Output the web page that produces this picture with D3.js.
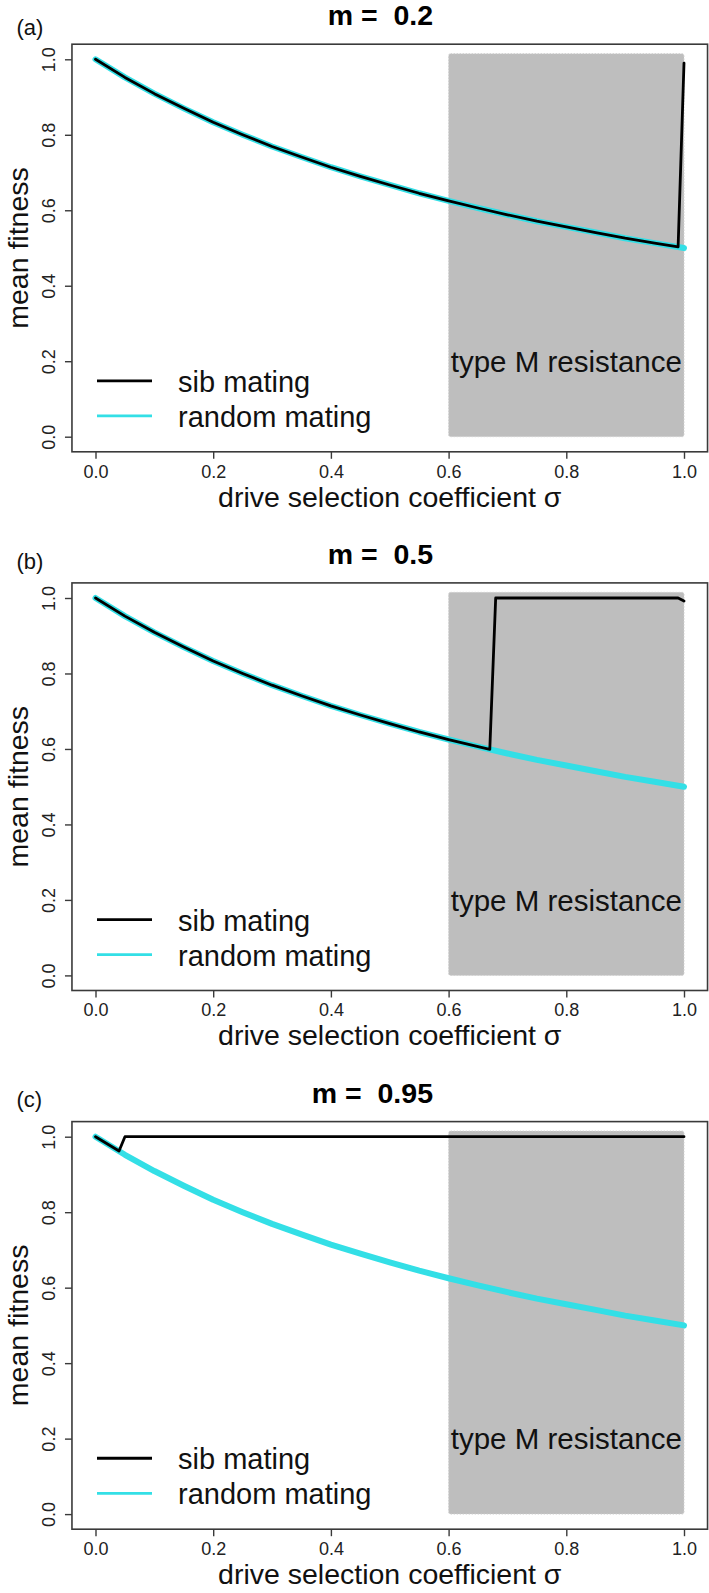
<!DOCTYPE html>
<html>
<head>
<meta charset="utf-8">
<script src="https://cdn.jsdelivr.net/npm/d3@7/dist/d3.min.js"></script>
<style>
  html, body { margin: 0; padding: 0; background: #fff; }
  svg { display: block; font-family: "Liberation Sans", Arial, Helvetica, sans-serif; }
</style>
</head>
<body>
<svg id="chart" width="709" height="1593"></svg>
<script>
// ---------------- data ----------------
const panelLabels = ["(a)", "(b)", "(c)"];
const panelTitles = ["m =  0.2", "m =  0.5", "m =  0.95"];
const xTicks = [0.0, 0.2, 0.4, 0.6, 0.8, 1.0];
const yTicks = [0.0, 0.2, 0.4, 0.6, 0.8, 1.0];
const xLabel = "drive selection coefficient \u03c3";
const yLabel = "mean fitness";
const legendLabels = ["sib mating", "random mating"];
const regionLabel = "type M resistance";
const regionX = [0.6, 1.0];
const regionY = [0.0, 1.015];

// random mating (same in all panels)
const sigma = [0.00, 0.05, 0.10, 0.15, 0.20, 0.25, 0.30, 0.35, 0.40, 0.45, 0.50,
               0.55, 0.60, 0.65, 0.70, 0.75, 0.80, 0.85, 0.90, 0.95, 1.00];
const randomFitness = [1.000, 0.952, 0.909, 0.870, 0.833, 0.800, 0.769, 0.741, 0.714, 0.690, 0.667,
                       0.645, 0.625, 0.606, 0.588, 0.571, 0.556, 0.541, 0.526, 0.513, 0.500];

// sib mating, panel (a) m = 0.2
const sibSigmaA = [0.00, 0.05, 0.10, 0.15, 0.20, 0.25, 0.30, 0.35, 0.40, 0.45, 0.50,
                   0.55, 0.60, 0.65, 0.70, 0.75, 0.80, 0.85, 0.90, 0.95, 0.99, 1.00];
const sibFitnessA = [1.000, 0.952, 0.909, 0.870, 0.833, 0.800, 0.769, 0.741, 0.714, 0.690, 0.667,
                     0.645, 0.625, 0.606, 0.588, 0.571, 0.556, 0.541, 0.526, 0.513, 0.503, 0.990];
// sib mating, panel (b) m = 0.5
const sibSigmaB = [0.00, 0.05, 0.10, 0.15, 0.20, 0.25, 0.30, 0.35, 0.40, 0.45, 0.50,
                   0.55, 0.60, 0.65, 0.67, 0.68, 0.99, 1.00];
const sibFitnessB = [1.000, 0.952, 0.909, 0.870, 0.833, 0.800, 0.769, 0.741, 0.714, 0.690, 0.667,
                     0.645, 0.625, 0.606, 0.599, 1.000, 1.000, 0.992];
// sib mating, panel (c) m = 0.95
const sibSigmaC = [0.00, 0.04, 0.05, 1.00];
const sibFitnessC = [1.000, 0.962, 1.000, 1.000];

const sibSigma = [sibSigmaA, sibSigmaB, sibSigmaC];
const sibFitness = [sibFitnessA, sibFitnessB, sibFitnessC];

// ---------------- layout ----------------
const panelOffsets = [0, 538.7, 1077.4];
const labelCenters = [29.2, 563.3, 1101];
const cyan = "#33DFE6";
const svg = d3.select("#chart");

const x = d3.scaleLinear().domain([0, 1]).range([95.5, 684]);
const boxL = x(-0.04), boxR = x(1.04);

panelOffsets.forEach((off, i) => {
  const y = d3.scaleLinear().domain([0, 1]).range([436.7 + off, 59.3 + off]);
  const boxT = y(1.04), boxB = y(-0.04);
  const g = svg.append("g");

  // shaded region
  g.append("rect")
    .attr("x", x(regionX[0])).attr("y", y(regionY[1]))
    .attr("width", x(regionX[1]) - x(regionX[0]))
    .attr("height", y(regionY[0]) - y(regionY[1]))
    .attr("rx", 2)
    .attr("fill", "#BEBEBE")
    .attr("stroke", "#D2D2D2").attr("stroke-width", 1).attr("stroke-dasharray", "1.5,1.5");

  g.append("text")
    .attr("x", x((regionX[0] + regionX[1]) / 2)).attr("y", y(0.2))
    .attr("dy", "0.36em")
    .attr("text-anchor", "middle")
    .attr("font-size", 29.5).attr("fill", "#111")
    .text(regionLabel);

  const line = d3.line().x(d => x(d[0])).y(d => y(d[1]));

  // random mating
  g.append("path")
    .datum(sigma.map((s, k) => [s, randomFitness[k]]))
    .attr("d", line)
    .attr("fill", "none").attr("stroke", cyan)
    .attr("stroke-width", 6).attr("stroke-linejoin", "round").attr("stroke-linecap", "round");

  // sib mating
  g.append("path")
    .datum(sibSigma[i].map((s, k) => [s, sibFitness[i][k]]))
    .attr("d", line)
    .attr("fill", "none").attr("stroke", "#000")
    .attr("stroke-width", 2.8).attr("stroke-linejoin", "round").attr("stroke-linecap", "round");

  // box
  g.append("rect")
    .attr("x", boxL).attr("y", boxT)
    .attr("width", boxR - boxL).attr("height", boxB - boxT)
    .attr("fill", "none").attr("stroke", "#3a3a3a").attr("stroke-width", 1.6);

  // x axis
  const xa = g.append("g")
    .attr("transform", `translate(0,${boxB})`)
    .call(d3.axisBottom(x).tickValues(xTicks).tickSize(7).tickPadding(6).tickFormat(d3.format(".1f")));
  xa.select(".domain").remove();
  xa.selectAll(".tick line").attr("stroke", "#3a3a3a").attr("stroke-width", 1.4);
  xa.selectAll(".tick text").attr("font-size", 18).attr("fill", "#222")
    .attr("font-family", "Liberation Sans, Arial, sans-serif");

  // y axis
  const ya = g.append("g")
    .attr("transform", `translate(${boxL},0)`)
    .call(d3.axisLeft(y).tickValues(yTicks).tickSize(7).tickFormat(d3.format(".1f")));
  ya.select(".domain").remove();
  ya.selectAll(".tick line").attr("stroke", "#3a3a3a").attr("stroke-width", 1.4);
  ya.selectAll(".tick text")
    .attr("x", null).attr("dy", null)
    .attr("text-anchor", "middle")
    .attr("transform", `translate(${55 - boxL},0) rotate(-90)`)
    .attr("font-size", 18).attr("fill", "#222")
    .attr("font-family", "Liberation Sans, Arial, sans-serif");

  // axis titles
  g.append("text")
    .attr("x", (boxL + boxR) / 2).attr("y", boxB + 55)
    .attr("text-anchor", "middle").attr("font-size", 28.5).attr("fill", "#111")
    .text(xLabel);
  g.append("text")
    .attr("transform", `translate(27.5,${(boxT + boxB) / 2}) rotate(-90)`)
    .attr("text-anchor", "middle").attr("font-size", 28.5).attr("fill", "#111")
    .text(yLabel);

  // title
  g.append("text")
    .attr("x", 433).attr("y", boxT - 19)
    .attr("text-anchor", "end").attr("font-size", 28.5).attr("font-weight", "bold")
    .style("white-space", "pre")
    .text(panelTitles[i]);

  // panel label
  g.append("text")
    .attr("x", 16.5).attr("y", labelCenters[i] + 6)
    .attr("font-size", 22).attr("fill", "#111")
    .text(panelLabels[i]);

  // legend
  const legY = [0.148, 0.055];
  const legCol = ["#000", cyan];
  legendLabels.forEach((lab, k) => {
    g.append("line")
      .attr("x1", 97).attr("x2", 152)
      .attr("y1", y(legY[k])).attr("y2", y(legY[k]))
      .attr("stroke", legCol[k]).attr("stroke-width", 2.8);
    g.append("text")
      .attr("x", 178).attr("y", y(legY[k]) + 11)
      .attr("font-size", 29).attr("fill", "#111")
      .text(lab);
  });
});
</script>
</body>
</html>
